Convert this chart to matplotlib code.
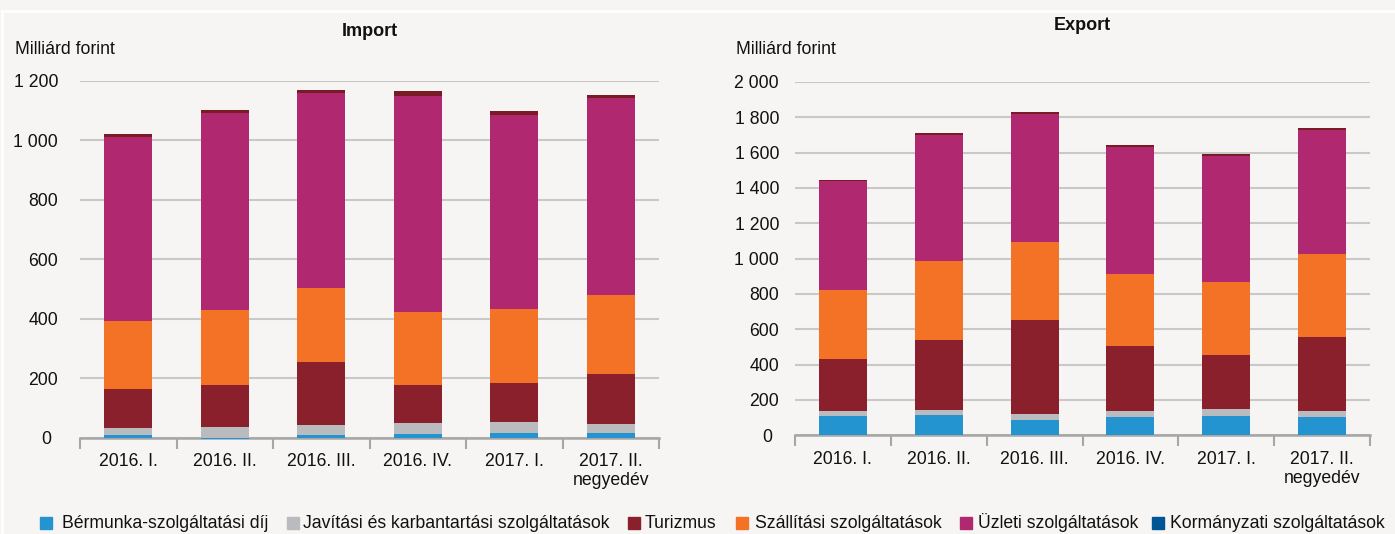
import matplotlib
matplotlib.use("Agg")
import matplotlib.pyplot as plt
import matplotlib.transforms as mtransforms
from matplotlib.patches import Rectangle
import numpy as np

plt.rcParams['font.family'] = ['Liberation Sans', 'DejaVu Sans']

categories = ["2016. I.", "2016. II.", "2016. III.", "2016. IV.", "2017. I.", "2017. II.\nnegyedév"]
series_names = ["Bérmunka-szolgáltatási díj", "Javítási és karbantartási szolgáltatások", "Turizmus",
                "Szállítási szolgáltatások", "Üzleti szolgáltatások", "Kormányzati szolgáltatások"]

# Import (milliárd forint)
imp_bermunka = [9, -6, 10, 13, 17, 17]
imp_javitasi = [23, 36, 32, 36, 36, 29]
imp_turizmus = [133, 141, 213, 128, 131, 168]
imp_szallitasi = [228, 253, 249, 246, 249, 267]
imp_uzleti = [617, 662, 654, 725, 651, 660]
imp_kormanyzati = [10, 9, 10, 17, 14, 10]

# Export (milliárd forint)
exp_bermunka = [111, 117, 88, 105, 111, 105]
exp_javitasi = [27, 26, 34, 33, 38, 33]
exp_turizmus = [294, 396, 530, 367, 306, 419]
exp_szallitasi = [390, 447, 442, 408, 413, 470]
exp_uzleti = [617, 715, 726, 720, 714, 702]
exp_kormanyzati = [8, 10, 10, 10, 10, 10]

imp_ticks = [0, 200, 400, 600, 800, 1000, 1200]
exp_ticks = [0, 200, 400, 600, 800, 1000, 1200, 1400, 1600, 1800, 2000]

bar_colors = ["#2394d0", "#b9bbbe", "#8b202d", "#f37225", "#b02870", "#7a1a24"]
legend_colors = ["#2394d0", "#b9bbbe", "#8b202d", "#f37225", "#b02870", "#005595"]
bg = "#f6f5f3"
FS = 12.7

W, H = 1395, 534
fig = plt.figure(figsize=(W / 100, H / 100), dpi=100, facecolor=bg)


def fmt(v):
    return f"{v:,}".replace(",", " ")


def draw(ax, series, ticks, ylim, title, title_y, ylab_x, pad):
    ax.set_facecolor(bg)
    x = np.arange(len(categories))
    pos = np.zeros(len(categories))
    neg = np.zeros(len(categories))
    for vals, c in zip(series, bar_colors):
        vals = np.array(vals, dtype=float)
        bottoms = np.where(vals >= 0, pos, neg)
        ax.bar(x, vals, bottom=bottoms, width=0.5, color=c, zorder=5, clip_on=False, linewidth=0)
        pos = pos + np.where(vals >= 0, vals, 0)
        neg = neg + np.where(vals < 0, vals, 0)
    ax.set_xlim(-0.5, len(categories) - 0.5)
    ax.set_ylim(*ylim)
    ax.set_yticks(ticks)
    ax.set_yticklabels([fmt(t) for t in ticks])
    ax.grid(axis='y', color='#c8c8c8', linewidth=1.5, zorder=0)
    for s in ['top', 'right', 'left']:
        ax.spines[s].set_visible(False)
    ax.spines['bottom'].set_color('#a6a6a6')
    ax.spines['bottom'].set_linewidth(1.8)
    ax.spines['bottom'].set_zorder(4)
    ax.tick_params(axis='y', length=0, pad=pad, labelsize=FS, labelcolor='#111111')
    ax.set_xticks(x)
    ax.set_xticklabels(categories)
    ax.tick_params(axis='x', which='major', length=0, pad=11, labelsize=FS, labelcolor='#111111')
    ax.set_xticks(np.arange(-0.5, len(categories), 1.0), minor=True)
    ax.tick_params(axis='x', which='minor', length=8, width=1.5, color='#a6a6a6')
    lbl = ax.get_yticklabels()[0]
    off = mtransforms.ScaledTranslation(-7 / 100, 0, fig.dpi_scale_trans)
    lbl.set_transform(lbl.get_transform() + off)
    bb = ax.get_position()
    fig.text((bb.x0 + bb.x1) / 2, title_y, title, ha='center', va='center',
             fontsize=13, fontweight='bold', color='#111111')
    fig.text(ylab_x, 1 - 50 / H, "Milliárd forint", ha='left', va='center', fontsize=FS, color='#111111')


ax1 = fig.add_axes([80 / W, 96.4 / H, 579 / W, 356.9 / H])
draw(ax1, [imp_bermunka, imp_javitasi, imp_turizmus, imp_szallitasi, imp_uzleti, imp_kormanyzati],
     imp_ticks, (0, 1200), "Import", 1 - 31 / H, 15 / W, 22 * 0.72)

ax2 = fig.add_axes([795 / W, 98.7 / H, 575 / W, 353.4 / H])
draw(ax2, [exp_bermunka, exp_javitasi, exp_turizmus, exp_szallitasi, exp_uzleti, exp_kormanyzati],
     exp_ticks, (0, 2000), "Export", 1 - 25 / H, 736 / W, 16 * 0.72)

fig.add_artist(plt.Line2D([2 / W, 1], [1 - 11 / H, 1 - 11 / H], color='white', lw=2, transform=fig.transFigure))
fig.add_artist(plt.Line2D([2 / W, 2 / W], [0, 1 - 11 / H], color='white', lw=2, transform=fig.transFigure))

sq_x = [40, 287, 628, 736, 960, 1152]
txt_x = [62, 303, 645, 755, 978, 1170]
ly = 1 - 523 / H
for name, c, sx, tx in zip(series_names, legend_colors, sq_x, txt_x):
    fig.add_artist(Rectangle((sx / W, ly - 6 / H), 12 / W, 12 / H, color=c, transform=fig.transFigure))
    fig.text(tx / W, ly, name, ha='left', va='center', fontsize=FS, color='#111111')

fig.savefig("out.png", dpi=100, facecolor=bg)
